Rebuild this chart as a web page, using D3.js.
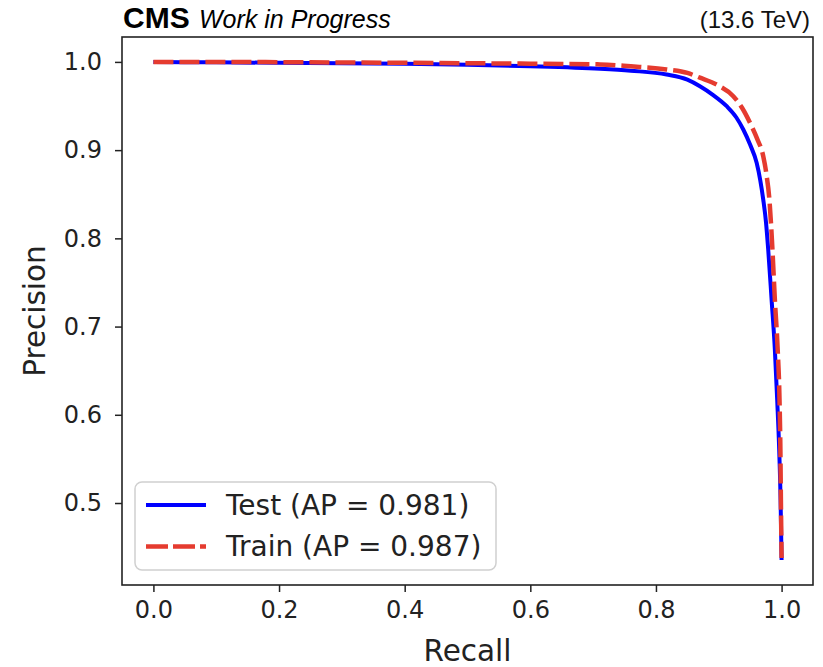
<!DOCTYPE html>
<html>
<head>
<meta charset="utf-8">
<script src="https://cdn.jsdelivr.net/npm/d3@7"></script>
<style>
  html, body { margin: 0; padding: 0; background: #fff; }
  svg { display: block; }
</style>
</head>
<body>
<svg id="chart" width="823" height="667"></svg>
<script>
// Precision-recall curves: (recall, precision) pairs per sample split
const testRecall    = [0, 0.1, 0.2, 0.3, 0.4, 0.5, 0.6, 0.711, 0.76, 0.817, 0.85, 0.87, 0.89, 0.9126, 0.928, 0.939, 0.95, 0.9603, 0.966, 0.9708, 0.9752, 0.9787, 0.9841, 0.9893, 0.993, 0.9962, 0.9984, 1.0];
const testPrecision = [1.0, 0.9995, 0.999, 0.9985, 0.9978, 0.9968, 0.9952, 0.9923, 0.990, 0.9858, 0.980, 0.9725, 0.963, 0.9498, 0.937, 0.9234, 0.906, 0.8856, 0.866, 0.8439, 0.818, 0.7872, 0.7304, 0.6737, 0.6169, 0.5602, 0.5034, 0.4353];

const trainRecall    = [0, 0.1, 0.2, 0.3, 0.4, 0.5, 0.6, 0.711, 0.76, 0.817, 0.85, 0.87, 0.9, 0.9231, 0.937, 0.9497, 0.961, 0.9708, 0.976, 0.9806, 0.9846, 0.9893, 0.9938, 0.9967, 0.9981, 0.9989, 1.0];
const trainPrecision = [1.0, 1.0, 0.9997, 0.9994, 0.999, 0.9985, 0.998, 0.9972, 0.995, 0.9915, 0.9875, 0.9821, 0.973, 0.9612, 0.948, 0.931, 0.913, 0.8931, 0.872, 0.8439, 0.7985, 0.7304, 0.6737, 0.6169, 0.5602, 0.5034, 0.4376];

const seriesNames = ["Test (AP = 0.981)", "Train (AP = 0.987)"];
const xTicks = [0.0, 0.2, 0.4, 0.6, 0.8, 1.0];
const yTicks = [0.5, 0.6, 0.7, 0.8, 0.9, 1.0];

const svg = d3.select("#chart");
const box = { left: 122, right: 813, top: 37, bottom: 585 };

// Axis limits with a 5% margin around the data range
const allRecall = testRecall.concat(trainRecall);
const allPrecision = testPrecision.concat(trainPrecision);
const [xMin, xMax] = d3.extent(allRecall);
const [yMin, yMax] = d3.extent(allPrecision);
const xPad = 0.05 * (xMax - xMin);
const yPad = 0.05 * (yMax - yMin);

const x = d3.scaleLinear().domain([xMin - xPad, xMax + xPad]).range([box.left, box.right]);
const y = d3.scaleLinear().domain([yMin - yPad, yMax + yPad]).range([box.bottom, box.top]);

const textFont = "DejaVu Sans, sans-serif";
const headFont = "Liberation Sans, Arial, sans-serif";

// Axes
const xAxis = d3.axisBottom(x).tickValues(xTicks).tickFormat(d3.format(".1f")).tickSize(7).tickPadding(9);
const yAxis = d3.axisLeft(y).tickValues(yTicks).tickFormat(d3.format(".1f")).tickSize(7).tickPadding(13);

const gx = svg.append("g").attr("transform", `translate(0,${box.bottom})`).call(xAxis);
const gy = svg.append("g").attr("transform", `translate(${box.left},0)`).call(yAxis);
[gx, gy].forEach(g => {
  g.select(".domain").remove();
  g.selectAll(".tick line").attr("stroke", "#222").attr("stroke-width", 1.5);
  g.selectAll(".tick text").attr("fill", "#222").style("font-family", textFont).style("font-size", "24px");
});

// Curves
const line = d3.line().x(d => x(d[0])).y(d => y(d[1])).curve(d3.curveMonotoneX);
const testData = d3.zip(testRecall, testPrecision);
const trainData = d3.zip(trainRecall, trainPrecision);

const plot = svg.append("g");
plot.append("path").datum(testData)
  .attr("d", line).attr("fill", "none")
  .attr("stroke", "#0000ff").attr("stroke-width", 4)
  .attr("stroke-linejoin", "round").attr("stroke-linecap", "butt");
plot.append("path").datum(trainData)
  .attr("d", line).attr("fill", "none")
  .attr("stroke", "#e53b2f").attr("stroke-width", 4.5)
  .attr("stroke-dasharray", "20,6")
  .attr("stroke-linejoin", "round").attr("stroke-linecap", "butt");

// Frame
svg.append("rect")
  .attr("x", box.left).attr("y", box.top)
  .attr("width", box.right - box.left).attr("height", box.bottom - box.top)
  .attr("fill", "none").attr("stroke", "#222").attr("stroke-width", 1.6);

// Axis titles
svg.append("text")
  .attr("x", (box.left + box.right) / 2).attr("y", 661)
  .attr("text-anchor", "middle")
  .style("font-family", textFont).style("font-size", "29.5px").attr("fill", "#222")
  .text("Recall");
svg.append("text")
  .attr("transform", `translate(45,${(box.top + box.bottom) / 2}) rotate(-90)`)
  .attr("text-anchor", "middle")
  .style("font-family", textFont).style("font-size", "29.5px").attr("fill", "#222")
  .text("Precision");

// Legend
const legend = svg.append("g");
legend.append("rect")
  .attr("x", 135).attr("y", 482).attr("width", 361).attr("height", 88)
  .attr("rx", 7).attr("ry", 7)
  .attr("fill", "#fff").attr("fill-opacity", 0.8)
  .attr("stroke", "#d0d0d0").attr("stroke-width", 1.5);
const legendStyles = [
  { color: "#0000ff", width: 4, dash: null, cy: 505, base: 515 },
  { color: "#e53b2f", width: 4.5, dash: "22,5", cy: 546.5, base: 556 }
];
seriesNames.forEach((name, i) => {
  const s = legendStyles[i];
  legend.append("line")
    .attr("x1", 146).attr("x2", 206).attr("y1", s.cy).attr("y2", s.cy)
    .attr("stroke", s.color).attr("stroke-width", s.width)
    .attr("stroke-dasharray", s.dash);
  legend.append("text")
    .attr("x", 226).attr("y", s.base)
    .style("font-family", textFont).style("font-size", "28px").attr("fill", "#222")
    .text(name);
});

// Experiment label and energy
const header = svg.append("text").attr("x", 123).attr("y", 28)
  .style("font-family", headFont).attr("fill", "#000");
header.append("tspan").style("font-weight", "bold").style("font-size", "30px").text("CMS");
header.append("tspan").attr("x", 199).style("font-style", "italic").style("font-size", "25px").text("Work in Progress");

svg.append("text").attr("x", 810).attr("y", 28).attr("text-anchor", "end")
  .style("font-family", headFont).style("font-size", "24px").attr("fill", "#111")
  .text("(13.6 TeV)");
</script>
</body>
</html>
